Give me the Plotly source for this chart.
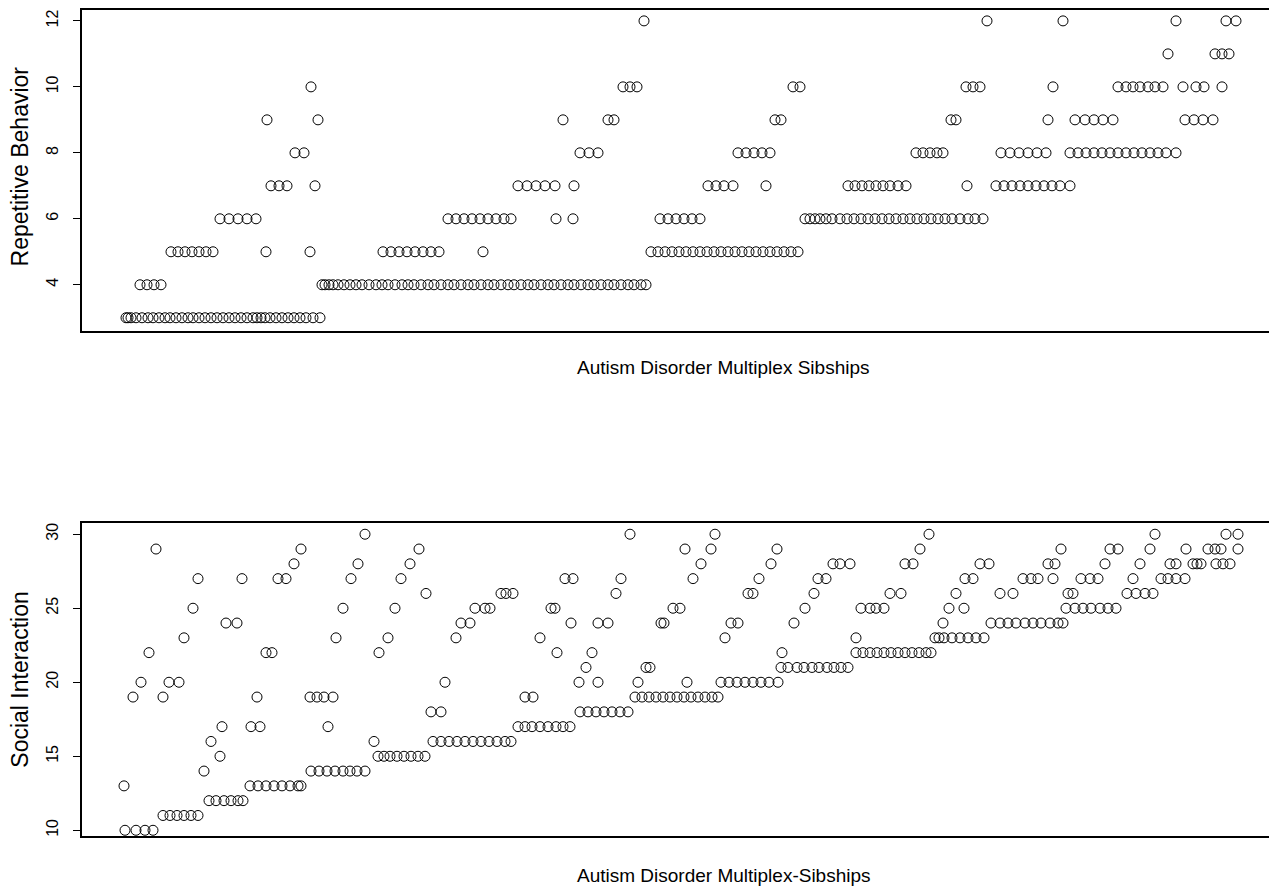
import plotly.graph_objects as go

# ---------------- Repetitive Behavior (top panel): sibship positions per score ----------------
RB_12 = [112.8, 181.4, 196.6, 219.2, 229.2, 231.2]
RB_11 = [217.6, 227, 228.4, 229.8]
RB_10 = [46.2, 108.6, 110, 111.4, 142.6, 144, 177.2, 178.6, 180, 194.6,
         207.6, 209.2, 210.6, 212, 213.6, 215, 216.6, 220.6, 223.2, 224.8, 228.4]
RB_9 = [37.4, 47.6, 96.6, 105.6, 106.8, 139, 140.2, 174.2, 175.2, 193.6,
        199, 201, 202.8, 204.6, 206.6, 221, 222.8, 224.6, 226.6]
RB_8 = [43, 44.8, 100, 101.8, 103.6, 131.6, 133.2, 134.8, 136.4, 138,
        167.2, 168.6, 170, 171.4, 172.6, 184.2, 186, 187.8, 189.6, 191.4, 193.2,
        198, 199.6, 201.2, 202.8, 204.4, 206, 207.6, 209.2, 210.8, 212.4, 214,
        215.6, 217.2, 219.2]
RB_7 = [38.2, 39.8, 41.4, 47, 87.6, 89.4, 91.2, 93, 95, 98.8, 125.6, 127.2,
        128.8, 130.6, 137.2, 153.6, 155, 156.4, 157.8, 159.2, 160.6, 162, 163.6,
        165.2, 177.4, 183.2, 184.8, 186.4, 188, 189.6, 191.2, 192.8, 194.4, 196, 198]
RB_6 = [28, 29.8, 31.6, 33.4, 35.2, 73.6, 75.2, 76.8, 78.4, 80, 81.6, 83.2,
        84.8, 86.2, 95.2, 98.6, 116, 117.6, 119.2, 120.8, 122.4, 124,
        145, 146, 147, 148, 149.2, 150.4, 152, 153.4, 154.8, 156.2, 157.6, 159,
        160.4, 161.8, 163.2, 164.6, 166, 167.4, 168.8, 170.2, 171.6, 173, 174.4,
        176, 177.6, 179, 180.6]
RB_5 = [18.2, 19.6, 21, 22.4, 23.8, 25.2, 26.6, 37.2, 46, 60.6, 62.2, 63.8,
        65.4, 67, 68.6, 70.2, 71.8, 80.6, 114.2, 115.6, 117, 118.4, 119.8, 121.2,
        122.6, 124, 125.4, 126.8, 128.2, 129.6, 131, 132.4, 133.8, 135.2, 136.6,
        138, 139.4, 140.8, 142.2, 143.6]
RB_4 = [12, 13.4, 14.8, 16.2, 48.4, 49, 49.8, 50.6, 51.6, 52.8, 54, 55.2, 56.4,
        57.8, 59.2, 60.4, 61.6, 63, 64.4, 65.6, 66.8, 68.2, 69.6, 70.8, 72.2, 73.6,
        74.8, 76.2, 77.6, 78.8, 80.2, 81.6, 82.8, 84.2, 85.6, 86.8, 88.2, 89.6,
        90.8, 92.2, 93.6, 94.8, 96.2, 97.6, 98.8, 100.2, 101.6, 102.8, 104.2,
        105.6, 106.8, 108.2, 109.6, 110.8, 112.2, 113.2]
RB_3 = [9.2, 9.6, 10.2, 11.2, 12.4, 13.6, 14.6, 15.8, 17, 18, 19.2, 20.4, 21.6,
        22.6, 23.8, 25, 26.2, 27.4, 28.6, 29.8, 31, 32.2, 33.4, 34.6, 35.4, 36.2,
        37, 38, 39.2, 40.4, 41.6, 42.8, 44, 45.2, 46.6, 48]
RB_LEVELS = {12: RB_12, 11: RB_11, 10: RB_10, 9: RB_9, 8: RB_8, 7: RB_7,
             6: RB_6, 5: RB_5, 4: RB_4, 3: RB_3}

# ---------------- Social Interaction (bottom panel) ----------------
SI_30 = [57, 110, 127, 169.8, 215, 229.2, 231.6]
SI_29 = [15.2, 44.2, 67.8, 121, 126.2, 139.4, 168, 196.2, 206, 207.6, 214,
         221.2, 225.6, 227, 228.2, 231.6]
SI_28 = [42.8, 55.6, 66, 124.2, 138.2, 150.6, 152, 154, 165, 166.6, 180, 181.8,
         193.6, 195, 205, 212, 218, 219.2, 222.6, 223.4, 224.2, 227.2, 228.6, 230]
SI_27 = [23.6, 32.4, 39.6, 41.2, 54.2, 64.2, 97, 98.6, 108.2, 122.6, 135.8,
         147.6, 149.2, 177, 178.6, 188.6, 190.2, 191.6, 194.6, 200.2, 202, 203.6,
         210.6, 216.2, 217.6, 219.2, 221]
SI_26 = [69.2, 84.2, 85.2, 86.6, 107.2, 133.6, 134.6, 146.8, 162, 164.2, 175.2,
         184, 186.6, 197.6, 198.6, 209.4, 211.2, 213, 214.6]
SI_25 = [22.6, 52.6, 63, 79, 81, 82, 94.2, 95, 118.6, 120, 145, 156.2, 158,
         159.2, 160.8, 173.8, 176.8, 197.2, 199, 200.6, 202.2, 204, 205.6, 207.2]
SI_24 = [29.2, 31.4, 76.2, 78, 98.2, 103.6, 105.6, 116.2, 116.8, 130.2, 131.6,
         142.8, 172.6, 182.2, 184, 185.6, 187.2, 189, 190.6, 192.2, 194, 195.6, 196.6]
SI_23 = [20.8, 51.2, 61.6, 75.2, 92, 129, 155.2, 171, 171.8, 172.8, 174.4, 176,
         177.6, 179.2, 180.8]
SI_22 = [13.8, 37.2, 38.4, 59.8, 95.4, 102.4, 140.4, 155.2, 156.6, 158, 159.4,
         160.8, 162.2, 163.6, 165, 166.4, 167.8, 169.2, 170.2]
SI_21 = [101.2, 113.2, 114, 140.2, 141.6, 143.4, 144.8, 146.4, 147.8, 149.4,
         150.8, 152.2, 153.6]
SI_20 = [12.2, 17.8, 19.8, 73, 99.8, 103.6, 111.6, 121.4, 128.2, 129.8, 131.4,
         133, 134.6, 136.2, 137.8, 139.6]
SI_19 = [10.6, 16.6, 35.4, 46, 47.4, 48.8, 50.6, 89, 90.6, 111, 112.4, 113.8,
         115.2, 116.6, 118, 119.4, 120.8, 122.2, 123.6, 125, 126.4, 127.6]
SI_18 = [70.2, 72.2, 100, 101.6, 103.2, 104.8, 106.4, 108, 109.6]
SI_17 = [28.4, 34.2, 36, 49.6, 87.6, 89, 90.4, 92, 93.6, 95.2, 96.6, 98]
SI_16 = [26.2, 58.8, 70.6, 72.2, 73.8, 75.4, 77, 78.6, 80.2, 81.8, 83.4, 85, 86.2]
SI_15 = [28, 59.6, 60.8, 62, 63.4, 64.8, 66.2, 67.6, 69]
SI_14 = [24.8, 46.2, 47.8, 49.4, 51, 52.6, 54, 55.4, 57]
SI_13 = [8.8, 34, 35.6, 37.2, 38.8, 40.4, 42, 43.6, 44.2]
SI_12 = [25.8, 27.2, 28.8, 30.2, 31.6, 32.6]
SI_11 = [16.6, 18, 19.4, 20.8, 22.2, 23.6]
SI_10 = [9, 11.2, 13, 14.6]
SI_LEVELS = {30: SI_30, 29: SI_29, 28: SI_28, 27: SI_27, 26: SI_26, 25: SI_25,
             24: SI_24, 23: SI_23, 22: SI_22, 21: SI_21, 20: SI_20, 19: SI_19,
             18: SI_18, 17: SI_17, 16: SI_16, 15: SI_15, 14: SI_14, 13: SI_13,
             12: SI_12, 11: SI_11, 10: SI_10}

RB_TICKS = [4, 6, 8, 10, 12]
SI_TICKS = [10, 15, 20, 25, 30]

TOP_TITLE_X = "Autism Disorder Multiplex Sibships"
BOT_TITLE_X = "Autism Disorder Multiplex-Sibships"
TOP_TITLE_Y = "Repetitive Behavior"
BOT_TITLE_Y = "Social Interaction"


def flatten(levels):
    xs, ys = [], []
    for score, positions in levels.items():
        for p in positions:
            xs.append(p)
            ys.append(score)
    return xs, ys


FONT = "Liberation Sans, Arial, sans-serif"
marker = dict(symbol="circle-open", size=10, color="black", line=dict(width=1, color="black"))

fig = go.Figure()
rx, ry = flatten(RB_LEVELS)
sx, sy = flatten(SI_LEVELS)
fig.add_trace(go.Scatter(x=rx, y=ry, mode="markers", marker=marker, xaxis="x", yaxis="y",
                         showlegend=False, hoverinfo="x+y"))
fig.add_trace(go.Scatter(x=sx, y=sy, mode="markers", marker=marker, xaxis="x2", yaxis="y2",
                         showlegend=False, hoverinfo="x+y"))

xcommon = dict(range=[0.4, 239.4], showgrid=False, zeroline=False, showticklabels=False,
               ticks="", showline=True, linecolor="black", linewidth=2, mirror=True)
ycommon = dict(showgrid=False, zeroline=False, ticks="outside", ticklen=7, tickwidth=1,
               tickcolor="black", showline=True, linecolor="black", linewidth=2, mirror=False,
               tickangle=-90, tickfont=dict(family=FONT, size=16, color="black"),
               ticklabelstandoff=9)

# the page body adds an 8px offset; the figure is sized to fill the remaining window
fig.update_layout(
    width=1269, height=884,
    margin=dict(l=74, r=0, t=0, b=0),
    paper_bgcolor="white", plot_bgcolor="white",
    xaxis=dict(domain=[0, 1], anchor="y", **xcommon),
    yaxis=dict(domain=[0.6357, 1.0], anchor="x", range=[2.6, 12.33], tickvals=RB_TICKS, **ycommon),
    xaxis2=dict(domain=[0, 1], anchor="y2", **xcommon),
    yaxis2=dict(domain=[0.0622, 0.4174], anchor="x2", range=[9.6, 30.74], tickvals=SI_TICKS, **ycommon),
    font=dict(family=FONT, color="black"),
)

xt_font = dict(family=FONT, size=19, color="black")
yt_font = dict(family=FONT, size=23, color="black")
fig.add_annotation(text=TOP_TITLE_X, xref="paper", yref="paper", x=0.537, y=0.594,
                   showarrow=False, font=xt_font, xanchor="center", yanchor="middle")
fig.add_annotation(text=BOT_TITLE_X, xref="paper", yref="paper", x=0.537, y=0.0181,
                   showarrow=False, font=xt_font, xanchor="center", yanchor="middle")
fig.add_annotation(text=TOP_TITLE_Y, xref="paper", yref="paper", x=-0.0519, y=0.8224,
                   showarrow=False, font=yt_font, textangle=-90, xanchor="center", yanchor="middle")
fig.add_annotation(text=BOT_TITLE_Y, xref="paper", yref="paper", x=-0.0519, y=0.2398,
                   showarrow=False, font=yt_font, textangle=-90, xanchor="center", yanchor="middle")

fig.write_html("out.html")
